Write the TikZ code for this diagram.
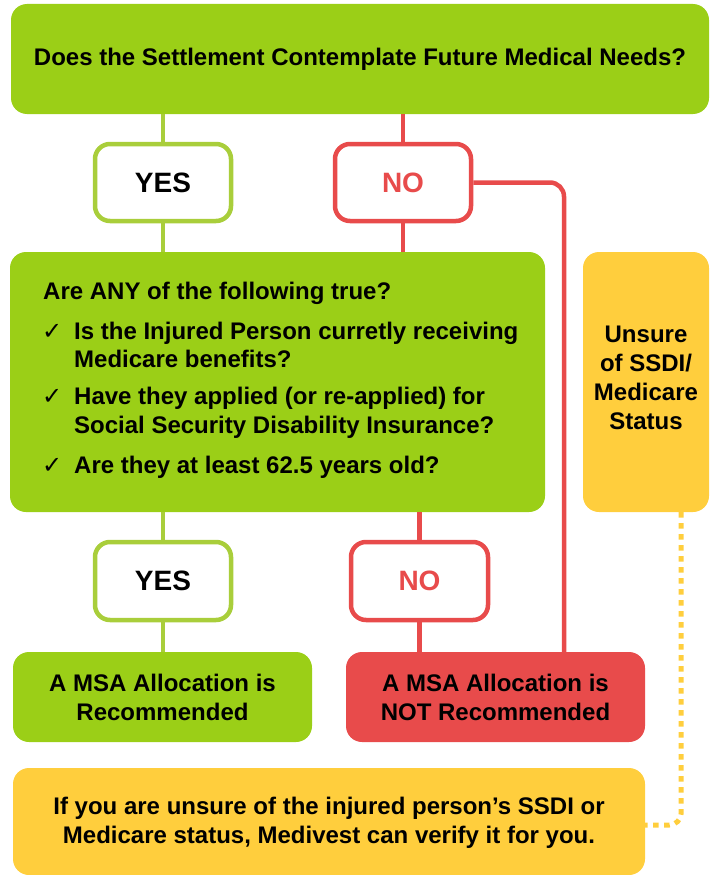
\documentclass[tikz,border=0pt]{standalone}
\usepackage{fontspec}
\setmainfont{Liberation Sans}
\newfontfamily\dejavu{DejaVu Sans}
\usetikzlibrary{calc}
\definecolor{mygreen}{HTML}{9BCF17}
\definecolor{lightgreen}{HTML}{A9CE3B}
\definecolor{myred}{HTML}{E84B4B}
\definecolor{myyellow}{HTML}{FFCE3D}
\begin{document}
\begin{tikzpicture}[x=1pt,y=-1pt,
  fillbox/.style={rounded corners=16pt, inner sep=0pt, align=center,
    font=\bfseries\fontsize{24}{29}\selectfont},
  ansbox/.style={rounded corners=15pt, inner sep=0pt, fill=white, line width=4.5pt,
    minimum width=136pt, minimum height=77pt,
    font=\bfseries\fontsize{28}{32}\selectfont},
  txt/.style={inner sep=0pt, anchor=base west, font=\bfseries\fontsize{24}{29}\selectfont},
  chk/.style={inner sep=0pt, anchor=base west, font=\dejavu\fontsize{24}{26}\selectfont},
  gline/.style={draw=lightgreen, line width=4.5pt},
  rline/.style={draw=myred, line width=4.5pt},
  yline/.style={draw=myyellow, line width=5pt, dash pattern=on 5.5pt off 5.5pt, rounded corners=12pt}]
\useasboundingbox (0,0) rectangle (710,875);
% boxes
\node[fillbox, fill=mygreen, minimum width=698pt, minimum height=110pt] (q1) at (360,59)
  {Does the Settlement Contemplate Future Medical Needs?};
\node[ansbox, draw=lightgreen] (yes1) at (163,182.5) {YES};
\node[ansbox, draw=myred, text=myred] (no1) at (403,182.5) {NO};
\node[fillbox, fill=mygreen, minimum width=535pt, minimum height=260pt] (q2) at (277.5,382) {};
\node[fillbox, fill=myyellow, minimum width=126pt, minimum height=260pt] (side) at (646,382) {};
\node[fillbox] (sidetxt) at (646,378) {Unsure\\of SSDI/\\Medicare\\Status};
\node[ansbox, draw=lightgreen, minimum height=78pt] (yes2) at (163,581) {YES};
\node[ansbox, draw=myred, text=myred, minimum width=137pt, minimum height=78pt] (no2) at (419.5,581) {NO};
\node[fillbox, fill=mygreen, minimum width=299pt, minimum height=90pt] (res1) at (162.5,697)
  {A MSA Allocation is\\Recommended};
\node[fillbox, fill=myred, minimum width=299pt, minimum height=90pt] (res2) at (495.5,697)
  {A MSA Allocation is\\NOT Recommended};
\node[fillbox, fill=myyellow, minimum width=632pt, minimum height=107pt] (info) at (329,821.5) {};
\node[fillbox] (infotxt) at (329,823)
  {If you are unsure of the injured person’s SSDI or\\Medicare status, Medivest can verify it for you.};
% text in question box
\node[txt] (l0) at (43,299) {Are ANY of the following true?};
\node[chk] (c1) at (42,339) {✓};
\node[txt] (l1) at (74,339) {Is the Injured Person curretly receiving};
\node[txt] (l1b) at (74,367) {Medicare benefits?};
\node[chk] (c2) at (42,404) {✓};
\node[txt] (l2) at (74,404) {Have they applied (or re-applied) for};
\node[txt] (l2b) at (74,433) {Social Security Disability Insurance?};
\node[chk] (c3) at (42,473) {✓};
\node[txt] (l3) at (74,473) {Are they at least 62.5 years old?};
% connectors
\draw[gline] (q1.south -| yes1.north) -- (yes1.north);
\draw[gline] (yes1.south) -- (yes1.south |- q2.north);
\draw[rline] (q1.south -| no1.north) -- (no1.north);
\draw[rline] (no1.south) -- (no1.south |- q2.north);
\coordinate (rx) at (564,0);
\draw[rline, rounded corners=14pt] (no1.east) -- (no1.east -| rx) -- (rx |- res2.north);
\draw[gline] (q2.south -| yes2.north) -- (yes2.north);
\draw[gline] (yes2.south) -- (yes2.south |- res1.north);
\draw[rline] (q2.south -| no2.north) -- (no2.north);
\draw[rline] (no2.south) -- (no2.south |- res2.north);
\coordinate (dtop) at ($(side.south east)+(-28,0)$);
\draw[yline] (dtop) |- ($(info.east)+(0,3.5)$);
\end{tikzpicture}
\end{document}
